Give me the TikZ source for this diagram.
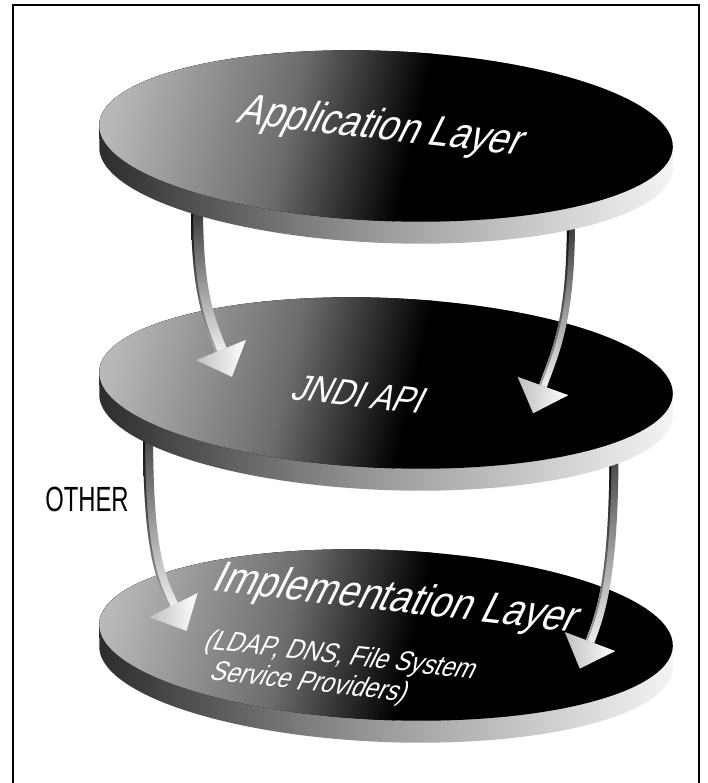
\documentclass[tikz,border=0pt]{standalone}
\usepackage{fontspec}
\setmainfont{Liberation Sans}
\newfontfamily\slantsans[FakeSlant=0.36, FakeStretch=0.86]{Liberation Sans}
\newfontfamily\narrowsans[FakeStretch=0.68]{Liberation Sans}
\usetikzlibrary{calc}

% greys of the disks
\definecolor{faceA}{gray}{0.72}
\definecolor{faceB}{gray}{0.42}
\definecolor{wallA}{gray}{0.16}
\definecolor{wallB}{gray}{0.62}
\definecolor{wallC}{gray}{0.97}

% disk geometry (pixel units, y pointing down)
\newcommand{\dskcx}{386}
\newcommand{\dskra}{287}
\newcommand{\dskrb}{85}
\newcommand{\dskph}{2.3}
\newcommand{\dskdep}{22}

% one tilted disk: #1 = centre y, #2 = name
\newcommand{\drawdisk}[2]{%
  \coordinate (#2) at (\dskcx,#1);
  % side wall
  \begin{scope}
    \clip plot[domain=0:180,samples=120,variable=\t]
      ({\dskcx+\dskra*cos(\t)*cos(\dskph)-\dskrb*sin(\t)*sin(\dskph)},
       {#1+\dskdep+\dskra*cos(\t)*sin(\dskph)+\dskrb*sin(\t)*cos(\dskph)})
      -- plot[domain=180:360,samples=120,variable=\t]
      ({\dskcx+\dskra*cos(\t)*cos(\dskph)-\dskrb*sin(\t)*sin(\dskph)},
       {#1+\dskra*cos(\t)*sin(\dskph)+\dskrb*sin(\t)*cos(\dskph)}) -- cycle;
    \shade[left color=wallA, right color=wallB] (90,#1-120) rectangle (390,#1+130);
    \shade[left color=wallB, right color=wallC] (390,#1-120) rectangle (685,#1+130);
  \end{scope}
  % top face
  \begin{scope}
    \clip plot[domain=0:360,samples=240,variable=\t]
      ({\dskcx+\dskra*cos(\t)*cos(\dskph)-\dskrb*sin(\t)*sin(\dskph)},
       {#1+\dskra*cos(\t)*sin(\dskph)+\dskrb*sin(\t)*cos(\dskph)}) -- cycle;
    \fill[black] (90,#1-100) rectangle (690,#1+100);
    \begin{scope}[transform canvas={rotate around={-13:(400,#1)}}]
      \fill[faceA] (0,#1-170) rectangle (116,#1+170);
      \shade[left color=faceA, right color=faceB] (115,#1-170) rectangle (291,#1+170);
      \shade[left color=faceB, right color=black] (290,#1-170) rectangle (414,#1+170);
    \end{scope}
  \end{scope}
}

% a curved band along a Bezier: #1 start, #2 #3 controls, #4 end,
% #5 #6 signed offsets of its two sides, #7 shading options
\newcommand{\ribbon}[7]{%
  \path ($(#1)!#5!90:(#2)$) coordinate (rb-a1) ($(#4)!#5!-90:(#3)$) coordinate (rb-a4)
        ($(#1)!#6!90:(#2)$) coordinate (rb-b1) ($(#4)!#6!-90:(#3)$) coordinate (rb-b4);
  \path ($(#2)+(rb-a1)-(#1)$) coordinate (rb-a2) ($(#3)+(rb-a4)-(#4)$) coordinate (rb-a3)
        ($(#2)+(rb-b1)-(#1)$) coordinate (rb-b2) ($(#3)+(rb-b4)-(#4)$) coordinate (rb-b3);
  \shade[#7] (rb-a1) .. controls (rb-a2) and (rb-a3) .. (rb-a4)
    -- (rb-b4) .. controls (rb-b3) and (rb-b2) .. (rb-b1) -- cycle;
}

% a full arrow: #1 prefix of its coordinates, #2 half width of the shaft,
% #3 shade at the start of the shaft
\newcommand{\bigarrow}[3]{%
  \ribbon{#1S}{#1C1}{#1C2}{#1E}{-#2 pt}{#2 pt}{top color=#3, bottom color=black!6}
  \ribbon{#1S}{#1C1}{#1C2}{#1E}{-#2 pt}{-#2 pt+2pt}{top color=black, bottom color=black!35}
  \coordinate (#1T) at ($(#1E)!-29pt!(#1C2)$);
  \coordinate (#1B1) at ($(#1E)!27pt!90:(#1C2)$);
  \coordinate (#1B2) at ($(#1E)!27pt!-90:(#1C2)$);
  \shade[left color=black!25, right color=white] (#1B1) -- (#1T) -- (#1B2) -- cycle;
}

\tikzset{
  disklabel/.style={text=white, inner sep=0pt, rotate=-6.5},
}

\begin{document}
\begin{tikzpicture}[x=1pt, y=-1pt]
  \useasboundingbox (0,0) rectangle (708,783);
  \fill[white] (0,0) rectangle (708,783);

  % open frame
  \draw[line width=2.2pt] (13,790) -- (13,5) -- (699,5) -- (699,790);

  % arrow paths
  \coordinate (aS) at (197,205);  \coordinate (aC1) at (197,290);
  \coordinate (aC2) at (208,318); \coordinate (aE) at (221,350);
  \coordinate (bS) at (571,220);  \coordinate (bC1) at (571,320);
  \coordinate (bC2) at (556,350); \coordinate (bE) at (543,386);
  \coordinate (cS) at (148,430);  \coordinate (cC1) at (148,550);
  \coordinate (cC2) at (160,578); \coordinate (cE) at (173.5,605);
  \coordinate (dS) at (614,450);  \coordinate (dC1) at (614,580);
  \coordinate (dC2) at (600,615); \coordinate (dE) at (590,641.5);

  % bottom layer and the arrows landing on it
  \drawdisk{635}{impl}
  \bigarrow{c}{5}{black!75}
  \bigarrow{d}{4.5}{black!75}

  % middle layer and the arrows landing on it
  \drawdisk{383}{jndi}
  \bigarrow{a}{6}{black!80}
  \bigarrow{b}{4}{black!80}

  % top layer
  \drawdisk{136}{app}

  % labels
  \node[disklabel, font=\slantsans\fontsize{43}{45}\selectfont] (applbl) at (378,128) {Application Layer};
  \node[disklabel, font=\slantsans\fontsize{37}{39}\selectfont] (jndilbl) at (356,394) {JNDI API};
  \node[disklabel, font=\slantsans\fontsize{44}{46}\selectfont] (impllbl) at (393,600) {Implementation Layer};
  \node[disklabel, font=\slantsans\fontsize{28}{30}\selectfont, align=left, anchor=north west]
    (provlbl) at (205,628) {(LDAP, DNS, File System\\\hspace*{9pt}Service Providers)};
  \node[inner sep=0pt, font=\narrowsans\fontsize{35}{37}\selectfont] (other) at (87,499) {OTHER};
\end{tikzpicture}
\end{document}
